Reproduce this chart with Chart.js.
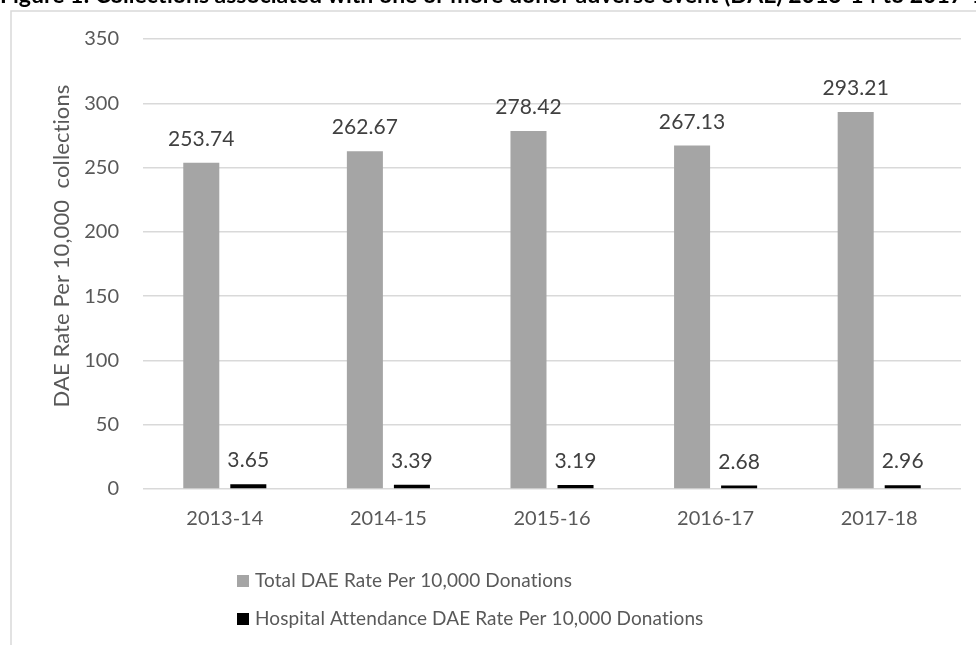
<!DOCTYPE html>
<html>
<head>
<meta charset="utf-8">
<script src="https://cdn.jsdelivr.net/npm/chart.js@4"></script>
<style>
    html, body { margin: 0; padding: 0; background: #fff; overflow: hidden; }
    #wrap { position: absolute; left: 0; top: 0; width: 976px; height: 645px; }
</style>
</head>
<body>
<div id="wrap"><canvas id="dae" width="976" height="645"></canvas></div>
<script>
// values
const years = ['2013-14', '2014-15', '2015-16', '2016-17', '2017-18'];
const totalRate = [253.74, 262.67, 278.42, 267.13, 293.21];
const hospitalRate = [3.65, 3.39, 3.19, 2.68, 2.96];
const seriesNames = ['Total DAE Rate Per 10,000 Donations', 'Hospital Attendance DAE Rate Per 10,000 Donations'];
const seriesColors = ['#a5a5a5', '#000000'];
const yTicks = [0, 50, 100, 150, 200, 250, 300, 350];

const figTitle = 'Figure 1: Collections associated with one or more donor adverse event (DAE) 2013-14 to 2017-18';
const yTitle = 'DAE Rate Per 10,000  collections';
const textColor = '#595959';
const fontName = 'Lato, "Open Sans", sans-serif';

// frame + cut off caption at the top
const framePlugin = {
    id: 'frame',
    beforeDraw(chart) {
        let ctx = chart.ctx;
        ctx.save();
        ctx.fillStyle = '#fff';
        ctx.fillRect(0, 0, chart.width, chart.height);
        ctx.strokeStyle = '#d9d9d9';
        ctx.lineWidth = 1.5;
        ctx.strokeRect(11, 11, 1200, 1000);
        ctx.fillStyle = '#000';
        ctx.font = 'bold 23px ' + fontName;
        ctx.textBaseline = 'alphabetic';
        ctx.textAlign = 'left';
        ctx.fillText(figTitle, 0, 3);
        ctx.restore();
    }
};

// value labels over every bar, the y title and the legend
const labelPlugin = {
    id: 'labels',
    afterDatasetsDraw(chart) {
        let ctx = chart.ctx;
        ctx.save();
        ctx.letterSpacing = '0.1px';
        ctx.fillStyle = '#404040';
        ctx.font = '21px ' + fontName;
        ctx.textAlign = 'center';
        ctx.textBaseline = 'alphabetic';
        chart.data.datasets.forEach((ds, i) => {
            let meta = chart.getDatasetMeta(i);
            meta.data.forEach((bar, j) => {
                ctx.fillText(ds.data[j].toFixed(2), bar.x, bar.y - 17);
            });
        });

        // y axis title
        ctx.fillStyle = textColor;
        ctx.font = '22px ' + fontName;
        ctx.save();
        ctx.translate(62, 246);
        ctx.rotate(-Math.PI / 2);
        ctx.textBaseline = 'middle';
        ctx.fillText(yTitle, 0, 0);
        ctx.restore();

        // legend, one series per row
        ctx.font = '19px ' + fontName;
        ctx.textAlign = 'left';
        ctx.textBaseline = 'middle';
        let rows = [581, 619];
        seriesNames.forEach((name, i) => {
            ctx.fillStyle = seriesColors[i];
            ctx.fillRect(237, rows[i] - 6, 12, 12);
            ctx.fillStyle = textColor;
            ctx.fillText(name, 255, rows[i]);
        });
        ctx.restore();
    }
};

let chartData = {
    type: 'bar',
    data: {
        labels: years,
        datasets: [
            {
                label: seriesNames[0],
                data: totalRate,
                backgroundColor: seriesColors[0]
            },
            {
                label: seriesNames[1],
                data: hospitalRate,
                backgroundColor: seriesColors[1]
            }
        ]
    },
    options: {
        responsive: false,
        animation: false,
        devicePixelRatio: 1,
        layout: {
            padding: { top: 39, right: 15, bottom: 96, left: 0 }
        },
        datasets: {
            bar: { categoryPercentage: 0.575, barPercentage: 0.766 }
        },
        plugins: {
            legend: { display: false },
            tooltip: { enabled: false }
        },
        scales: {
            x: {
                grid: { display: false, drawTicks: false },
                border: { display: false },
                ticks: {
                    color: textColor,
                    font: { family: fontName, size: 20 },
                    padding: 18
                },
                afterFit(scale) { scale.height = 60; }
            },
            y: {
                min: 0,
                max: 350,
                afterBuildTicks(scale) {
                    scale.ticks = yTicks.map(v => ({ value: v }));
                },
                grid: { color: '#d9d9d9', lineWidth: 1.5, drawTicks: false },
                border: { display: false },
                ticks: {
                    color: textColor,
                    font: { family: fontName, size: 20 },
                    padding: 24
                },
                afterFit(scale) { scale.width = 143; }
            }
        }
    },
    plugins: [framePlugin, labelPlugin]
};

let daeChart = new Chart(document.getElementById('dae').getContext('2d'), chartData);
</script>
</body>
</html>
